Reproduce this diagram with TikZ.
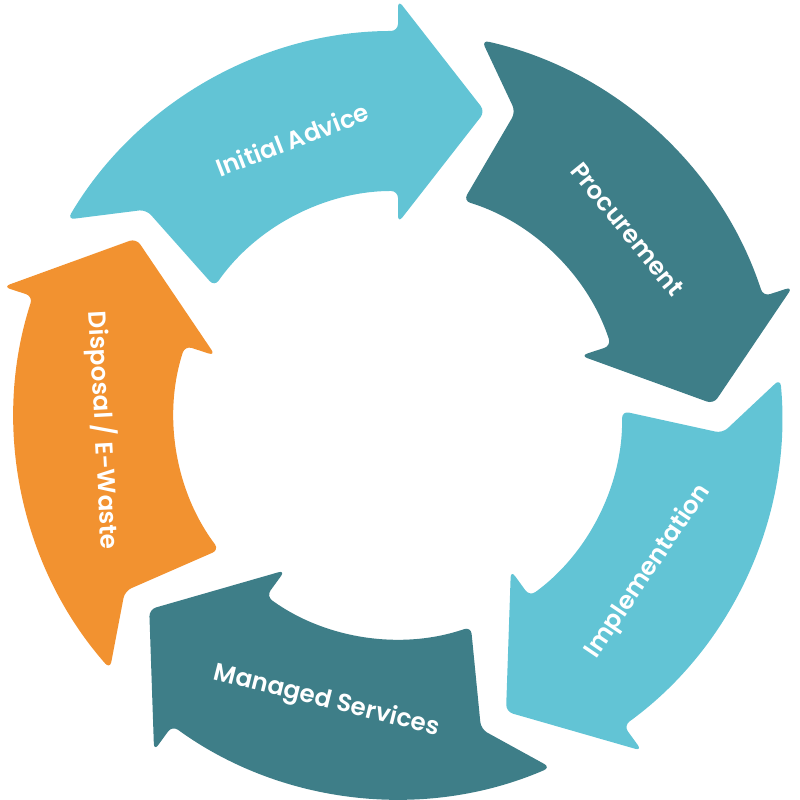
\documentclass[tikz,border=0pt]{standalone}
\usepackage{fontspec}
\setmainfont{Poppins}[BoldFont={Poppins SemiBold}]
\usetikzlibrary{calc}
\definecolor{cyclelight}{HTML}{62C4D5}
\definecolor{cycledark}{HTML}{3E7E88}
\definecolor{cycleorange}{HTML}{F29230}

\begin{document}
\begin{tikzpicture}[
  stage/.style={rounded corners=2pt},
  stagelabel/.style={text=white, font=\fontsize{7}{9}\selectfont\bfseries, inner sep=0pt}
]
  \useasboundingbox (0,0) rectangle (8,8);
  \coordinate (O) at (3.98,3.85);

  % one curved arrow per stage: head angle / colour
  \foreach \b/\col in {90/cyclelight, 18/cycledark, -54/cyclelight, -126/cycledark, 162/cycleorange} {
    \fill[\col, stage]
      ($(O)+(\b+50.8:3.25)$) -- ($(O)+(\b+59.4:3.84)$)
      arc[start angle=\b+59.4, end angle=\b, radius=3.84]
      -- ($(O)+(\b:4.15)$)
      -- ($(O)+(\b:3.035)+(\b-90:0.87)$)
      -- ($(O)+(\b:1.92)$) -- ($(O)+(\b:2.24)$)
      arc[start angle=\b, end angle=\b+55, radius=2.24]
      -- cycle;
  }

  % labels
  \node[stagelabel, rotate=21]  (advice)    at ($(O)+(111:2.95)$) {Initial Advice};
  \node[stagelabel, rotate=-51] (procure)   at ($(O)+(39:2.95)$)  {Procurement};
  \node[stagelabel, rotate=56]  (implement) at ($(O)+(-32:2.95)$) {Implementation};
  \node[stagelabel, rotate=-14] (managed)   at ($(O)+(-104:2.95)$) {Managed Services};
  \node[stagelabel, rotate=-87] (disposal)  at ($(O)+(183:2.95)$) {Disposal / E-Waste};
\end{tikzpicture}
\end{document}
